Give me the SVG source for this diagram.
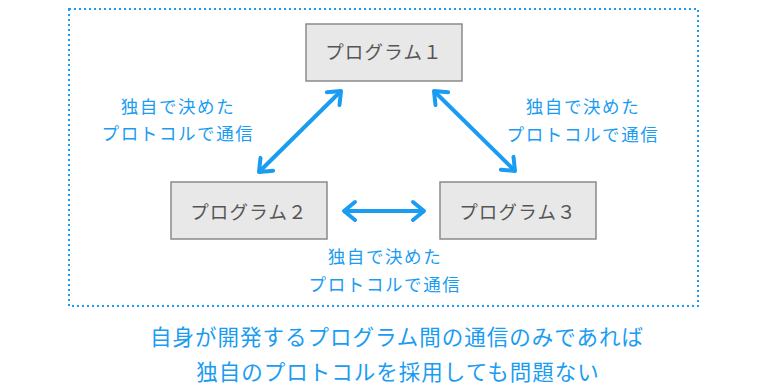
<svg xmlns="http://www.w3.org/2000/svg" width="768" height="389" viewBox="0 0 768 389">
<style>
.box{fill:#e8e8e8;stroke:#8a8a8a;stroke-width:1.5}
.bt{font-family:"Noto Sans CJK JP","Noto Sans",sans-serif;font-size:18.5px;fill:#555555;text-anchor:middle;letter-spacing:1.2px}
.lb{font-family:"Noto Sans CJK JP","Noto Sans",sans-serif;font-size:17.5px;fill:#1a9cf2;text-anchor:middle;letter-spacing:1.6px}
.note{font-family:"Noto Sans CJK JP","Noto Sans",sans-serif;font-size:21.5px;fill:#1a9cf2;text-anchor:middle;letter-spacing:1px}
.conn{stroke:#1a9cf2;stroke-width:4;fill:none;marker-start:url(#ah);marker-end:url(#ah)}
</style>
<defs>
<marker id="ah" viewBox="-16 -12 20 24" refX="0" refY="0" markerWidth="20" markerHeight="24" markerUnits="userSpaceOnUse" orient="auto-start-reverse">
<path d="M-11,-9 L0,0 L-11,9" fill="none" stroke="#1a9cf2" stroke-width="4" stroke-linecap="round" stroke-linejoin="round"/>
</marker>
</defs>
<rect x="69" y="9" width="629" height="297" fill="none" stroke="#1a9cf2" stroke-width="2" stroke-dasharray="2 3"/>
<g id="connectors">
<line class="conn" x1="259" y1="172" x2="341" y2="91"/>
<line class="conn" x1="434" y1="91" x2="515" y2="171"/>
<line class="conn" x1="344" y1="211" x2="424" y2="211"/>
</g>
<g id="node1"><rect class="box" x="306" y="24" width="156" height="57"/><text class="bt" x="384" y="58.5">プログラム１</text></g>
<g id="node2"><rect class="box" x="171" y="182" width="156" height="57"/><text class="bt" x="249" y="218.5">プログラム２</text></g>
<g id="node3"><rect class="box" x="440" y="182" width="156" height="57"/><text class="bt" x="518" y="218.5">プログラム３</text></g>
<g id="label-left"><text class="lb" x="178" y="112.5">独自で決めた</text><text class="lb" x="178" y="140">プロトコルで通信</text></g>
<g id="label-right"><text class="lb" x="583" y="113">独自で決めた</text><text class="lb" x="583" y="141">プロトコルで通信</text></g>
<g id="label-bottom"><text class="lb" x="385" y="263">独自で決めた</text><text class="lb" x="385" y="291">プロトコルで通信</text></g>
<g id="note"><text class="note" x="397" y="344.5">自身が開発するプログラム間の通信のみであれば</text><text class="note" x="398" y="380">独自のプロトコルを採用しても問題ない</text></g>
</svg>
